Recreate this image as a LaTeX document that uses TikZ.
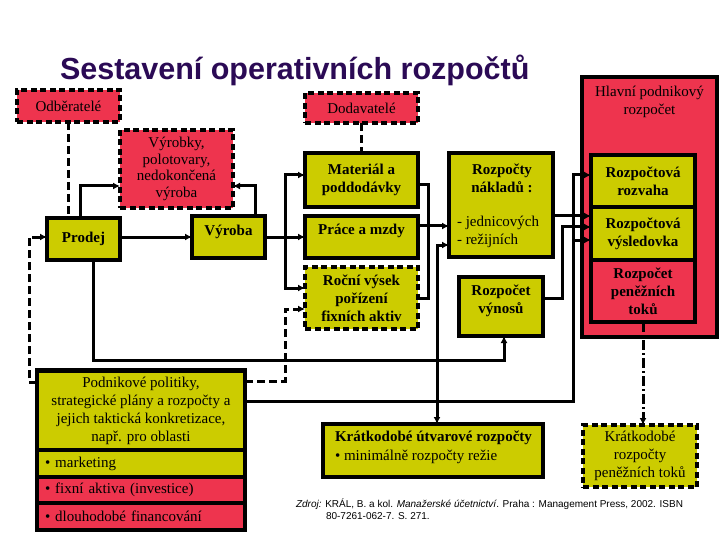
\documentclass[tikz,border=0pt]{standalone}
\usepackage{fontspec}
\setmainfont{Liberation Serif}
\newfontfamily\sansf{Liberation Sans}
\usetikzlibrary{arrows.meta}
\definecolor{myred}{RGB}{238,52,78}
\definecolor{myolive}{RGB}{204,204,0}
\definecolor{mypurple}{RGB}{43,10,85}
\begin{document}
\begin{tikzpicture}[x=1pt,y=-1pt,
  every node/.style={inner sep=0pt, outer sep=0pt},
  bx/.style={draw=black, line width=3.5pt, rectangle},
  dbx/.style={draw=black, line width=3.5pt, rectangle, dash pattern=on 6pt off 3.5pt},
  redf/.style={fill=myred},
  olf/.style={fill=myolive},
  txt/.style={font=\fontsize{15}{18}\selectfont, align=center},
  btxt/.style={font=\fontsize{15}{18}\selectfont\bfseries, align=center},
  ltxt/.style={font=\fontsize{15}{18}\selectfont, align=left, text width=192pt},
  tip/.tip={Latex[length=7pt,width=7pt]},
  conn/.style={line width=3pt, -tip},
  lin/.style={line width=3pt},
  dconn/.style={line width=3pt, dash pattern=on 8pt off 4pt, -tip},
  dlin/.style={line width=3pt, dash pattern=on 8pt off 4pt},
  ddconn/.style={line width=3pt, dash pattern=on 10pt off 3pt on 2pt off 3pt, -tip},
]
\fill[white] (0,0) rectangle (720,540);
\useasboundingbox (0,0) rectangle (720,540);

% title
\node[anchor=base west, font=\sansf\bfseries\fontsize{30.5}{34}\selectfont, text=mypurple] (title) at (60,80) {Sestavení operativních rozpočtů};

% top boxes
\node[dbx, redf, minimum width=103pt, minimum height=32pt, txt] (odb) at (68.5,106) {Odběratelé};
\node[dbx, redf, minimum width=113pt, minimum height=30pt, txt] (dod) at (361.5,108) {Dodavatelé};

% main budget
\node[bx, redf, line width=4.5pt, minimum width=135pt, minimum height=260pt] (hlavni) at (649.5,207) {};
\node[txt] (hlavnit) at (649.5,102) {Hlavní podnikový\\rozpočet};
\node[bx, olf, minimum width=104pt, minimum height=52pt, btxt] (rozvaha) at (643,181) {Rozpočtová\\rozvaha};
\node[bx, olf, minimum width=104pt, minimum height=53pt, btxt] (vysl) at (643,233.5) {Rozpočtová\\výsledovka};
\node[bx, redf, minimum width=104pt, minimum height=62pt, btxt] (penez) at (643,291) {Rozpočet\\peněžních\\toků};

% left
\node[dbx, redf, minimum width=113pt, minimum height=78pt, font=\fontsize{15}{16.5}\selectfont, align=center] (vyrobky) at (176.5,169) {Výrobky,\\polotovary,\\nedokončená\\výroba};
\node[bx, olf, minimum width=73pt, minimum height=42pt, btxt] (prodej) at (83.5,239) {Prodej};
\node[bx, olf, minimum width=73pt, minimum height=42pt] (vyroba) at (228.5,237) {};
\node[btxt] (vyrobat) at (228.5,232) {Výroba};

% middle
\node[bx, olf, minimum width=113pt, minimum height=54pt, btxt] (mat) at (361.5,180) {Materiál a\\poddodávky};
\node[bx, olf, minimum width=113pt, minimum height=42pt] (prace) at (361.5,237) {};
\node[btxt] (pracet) at (361.5,231) {Práce a mzdy};
\node[dbx, olf, minimum width=113pt, minimum height=62pt, btxt] (rocni) at (361.5,298) {Roční výsek\\pořízení\\fixních aktiv};
\node[bx, olf, minimum width=104pt, minimum height=104pt] (naklady) at (501,205) {};
\node[btxt] (nakladyt) at (502,178) {Rozpočty\\nákladů :};
\node[txt, anchor=west, align=left] (nakladyl) at (457,231.5) {- jednicových\\- režijních};
\node[bx, olf, minimum width=84pt, minimum height=59pt] (vynosy) at (501,306.5) {};
\node[btxt] (vynosyt) at (501,300.5) {Rozpočet\\výnosů};

% policies
\node[bx, olf, minimum width=208pt, minimum height=80pt, txt] (podt) at (141,411) {Podnikové politiky,\\strategické plány a rozpočty a\\jejich taktická konkretizace,\\např. pro oblasti};
\node[bx, olf, minimum width=208pt, minimum height=27pt, ltxt] (podm) at (141,463.5) {• marketing};
\node[bx, redf, minimum width=208pt, minimum height=26pt, ltxt] (podf) at (141,490) {• fixní aktiva (investice)};
\node[bx, redf, minimum width=208pt, minimum height=27pt, ltxt] (podd) at (141,516.5) {• dlouhodobé financování};
\node[draw=black, line width=4pt, minimum width=208pt, minimum height=160pt] (pod) at (141,450) {};

% bottom
\node[bx, olf, minimum width=220pt, minimum height=53pt] (kutv) at (433,450.5) {};
\node[anchor=west, align=left, font=\fontsize{15}{19}\selectfont] (kutvt) at (335,447.5) {\textbf{Krátkodobé útvarové rozpočty}\\• minimálně rozpočty režie};
\node[dbx, olf, minimum width=114pt, minimum height=62pt, txt] (kpt) at (640,456) {Krátkodobé\\rozpočty\\peněžních toků};

% source
\node[anchor=base west, font=\sansf\fontsize{10}{12}\selectfont] (zdroj1) at (296,507) {\textit{Zdroj:} KRÁL, B. a kol. \textit{Manažerské účetnictví}. Praha : Management Press, 2002. ISBN};
\node[anchor=base west, font=\sansf\fontsize{10}{12}\selectfont] (zdroj2) at (326,519) {80-7261-062-7. S. 271.};

% connectors
\coordinate (j1) at (285,237);
\coordinate (j2) at (285,309);
\coordinate (j3) at (29,237);
\coordinate (j5) at (573,175);
\coordinate (j6) at (573,240);
\draw[dlin] (odb.south) -- (odb.south |- prodej.north);
\draw[dlin] (dod.south) -- (dod.south |- mat.north);
\draw[conn] ([xshift=-3.5pt]prodej.north) |- (vyrobky.west |- 0,186);
\draw[conn] ([xshift=26.5pt]vyroba.north) |- (vyrobky.east |- 0,186);
\draw[conn] (prodej.east |- 0,237) -- (vyroba.west |- 0,237);
\draw[conn] (vyroba.east |- j1) -- (prace.west |- j1);
\draw[conn] (j1) |- (mat.west |- 0,175);
\draw[conn] (j1) |- (rocni.west |- 0,288);
\draw[dconn] (pod.east |- 0,381) -| (j2) -- (rocni.west |- j2);
\draw[dconn] (pod.west |- 0,382) -| (j3) -- (prodej.west |- j3);
\draw[conn] ([xshift=9.5pt]prodej.south) |- ([xshift=3pt]vynosy.south |- 0,360) -- ([xshift=3pt]vynosy.south);
\draw[conn] (pod.east |- 0,401) -| (j5) -- (rozvaha.west |- j5);
\draw[conn] (j6) -- (vysl.west |- j6);
\draw[line width=3pt, tip-tip] ([xshift=4pt]kutv.north) |- (naklady.west |- 0,245);
\draw[lin] (mat.east |- 0,185) -| (428,298) -- (rocni.east |- 0,298);
\draw[conn] (prace.east |- 0,226) -- (naklady.west |- 0,226);
\draw[conn] (naklady.east |- 0,216) -- (vysl.west |- 0,216);
\draw[conn] (vynosy.east |- 0,298) -| (562,227) -- (vysl.west |- 0,227);
\draw[ddconn] (penez.south) -- (penez.south |- kpt.north);
\end{tikzpicture}
\end{document}
